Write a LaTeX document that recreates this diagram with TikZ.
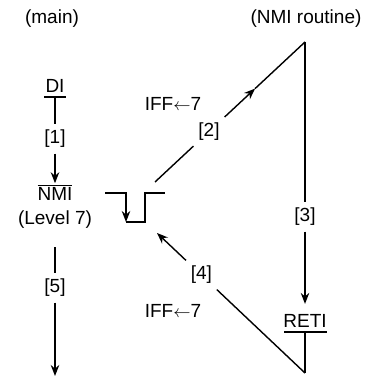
\documentclass[tikz,border=0pt]{standalone}
\usepackage{fontspec}
\setmainfont{Liberation Sans}
\usetikzlibrary{arrows.meta,calc}
\tikzset{
    >={Stealth[length=11pt,width=8.5pt]},
    every node/.append style={align=center,font=\fontsize{19}{22}\selectfont},
    lbl/.style={inner sep=5pt},
}

\begin{document}
\begin{tikzpicture}[x=1pt,y=-1pt,line width=1.4pt]
    \useasboundingbox (0,0) rectangle (367,379);
    % headings
    \node (hmain) at (52,19) {(main)};
    \node (hrout) at (306,19) {(NMI routine)};

    % main program column
    \node[anchor=base] (di) at (55,93) {DI};
    \coordinate (dil) at (44,97);
    \coordinate (dir) at (66,97);
    \coordinate (dib) at (55,97);
    \draw (dil) -- (dir);
    \node[lbl] (l1) at (55,139) {[1]};
    \draw (dib) -- (l1);
    \node[anchor=base,inner sep=1pt] (nmi) at (55,200) {$\overline{\mbox{NMI}}$};
    \draw[->] (l1) -- (nmi);
    \node (lvl) at (55,220) {(Level 7)};
    \coordinate (m5a) at (55,247);
    \coordinate (m5b) at (55,376);
    \node[lbl] (l5) at (55,288) {[5]};
    \draw (m5a) -- (l5);
    \draw[->] (l5) -- (m5b);

    % NMI pulse
    \coordinate (p1) at (105,193);
    \coordinate (p2) at (126,193);
    \coordinate (p3) at (126,222);
    \coordinate (p4) at (145,222);
    \coordinate (p5) at (145,193);
    \coordinate (p6) at (165,193);
    \draw[->] (p1) -- (p2) -- (p3);
    \draw (p3) -- (p4) -- (p5) -- (p6);

    % branch to the routine
    \coordinate (s2) at (155,182);
    \coordinate (top) at (305,42);
    \node[lbl] (l2) at ($(s2)!0.36!(top)$) {[2]};
    \coordinate (a2) at ($(s2)!0.667!(top)$);
    \draw (s2) -- (l2);
    \draw[->] (l2) -- (a2);
    \draw (a2) -- (top);
    \node (iff1) at (173,104) {IFF$\leftarrow$7};

    % routine column
    \node[lbl] (l3) at (305,217) {[3]};
    \draw (top) -- (l3);
    \node[anchor=base] (reti) at (305,327) {RETI};
    \draw[->] (l3) -- ([yshift=6pt]reti.north);
    \coordinate (rl) at (284,332);
    \coordinate (rr) at (327,332);
    \coordinate (rb) at (305,332);
    \coordinate (bot) at (305,373);
    \draw (rl) -- (rr);
    \draw (rb) -- (bot);

    % return to main
    \coordinate (e4) at (157,233);
    \node[lbl] (l4) at ($(bot)!0.70!(e4)$) {[4]};
    \draw (bot) -- (l4);
    \draw[->] (l4) -- (e4);
    \node (iff2) at (173,311) {IFF$\leftarrow$7};
\end{tikzpicture}
\end{document}
